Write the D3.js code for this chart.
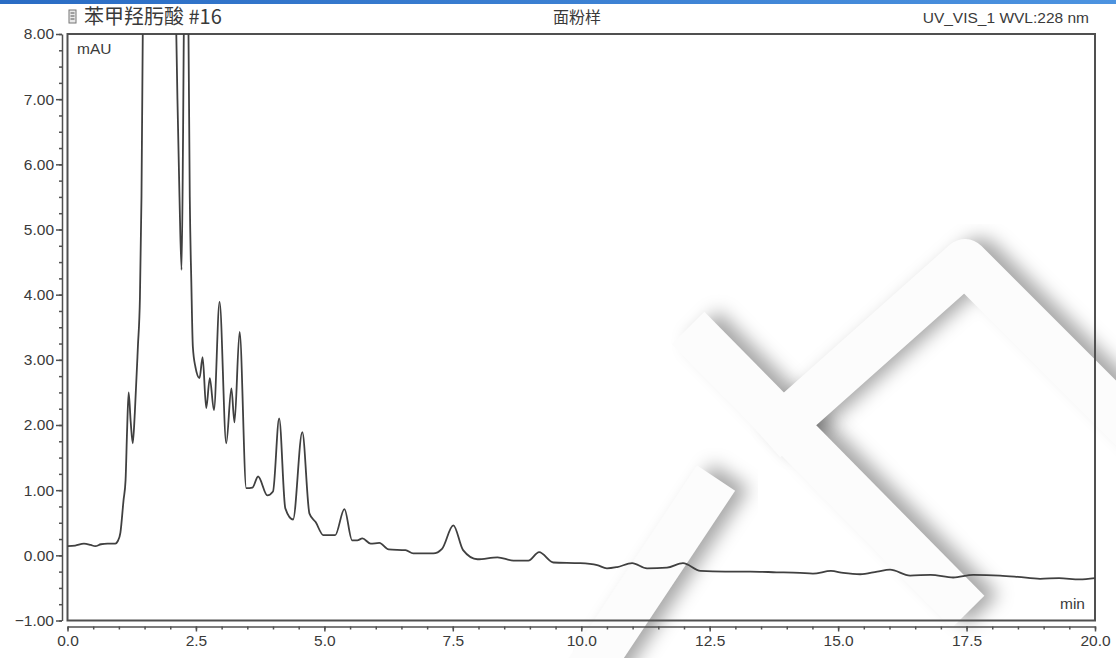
<!DOCTYPE html>
<html>
<head>
<meta charset="utf-8">
<script src="https://cdn.jsdelivr.net/npm/d3@7"></script>
<style>
  body { margin: 0; background: #fff; }
  svg { display: block; }
  text { font-family: "Liberation Sans", Arial, sans-serif; fill: #3a3a3a; }
  .cjk { font-family: "Noto Sans CJK SC", sans-serif; }
</style>
</head>
<body>
<script>
// retention time (min)
var times = [0.00, 0.15, 0.32, 0.45, 0.54, 0.65, 0.78, 0.93, 0.98, 1.03,
  1.09, 1.13, 1.16, 1.19, 1.23, 1.27, 1.31, 1.37, 1.41, 1.44,
  1.47, 1.55, 1.80, 2.02, 2.10, 2.14, 2.18, 2.22, 2.25, 2.28,
  2.32, 2.35, 2.38, 2.41, 2.44, 2.49, 2.57, 2.63, 2.70, 2.77,
  2.85, 2.96, 3.09, 3.19, 3.25, 3.35, 3.48, 3.60, 3.71, 3.89,
  4.00, 4.12, 4.24, 4.39, 4.57, 4.71, 4.83, 4.98, 5.21, 5.39,
  5.54, 5.64, 5.74, 5.90, 6.07, 6.25, 6.58, 6.73, 7.12, 7.29,
  7.51, 7.70, 7.98, 8.37, 8.68, 8.97, 9.18, 9.46, 9.98, 10.31,
  10.50, 10.70, 10.99, 11.28, 11.67, 11.98, 12.32, 12.80, 13.29, 13.80,
  14.26, 14.51, 14.86, 15.10, 15.43, 15.76, 16.01, 16.40, 16.80, 17.24,
  17.63, 18.15, 18.50, 18.93, 19.30, 19.70, 20.00];

// absorbance (mAU)
var signal = [0.14, 0.15, 0.18, 0.16, 0.14, 0.17, 0.18, 0.18, 0.22, 0.35,
  0.84, 1.15, 1.92, 2.50, 2.05, 1.72, 2.18, 3.20, 3.96, 5.50,
  8.50, 13.0, 14.5, 12.0, 8.80, 7.00, 5.50, 4.38, 6.50, 9.50,
  10.0, 8.50, 5.50, 4.20, 3.20, 2.89, 2.72, 3.04, 2.26, 2.72,
  2.23, 3.89, 1.72, 2.56, 2.04, 3.43, 1.03, 1.04, 1.21, 0.92,
  0.98, 2.10, 0.72, 0.55, 1.89, 0.64, 0.51, 0.31, 0.31, 0.71,
  0.23, 0.23, 0.26, 0.18, 0.19, 0.09, 0.08, 0.03, 0.03, 0.10,
  0.46, 0.08, -0.06, -0.03, -0.08, -0.08, 0.05, -0.11, -0.12, -0.15,
  -0.20, -0.18, -0.12, -0.20, -0.19, -0.12, -0.24, -0.25, -0.25, -0.26,
  -0.27, -0.28, -0.24, -0.27, -0.29, -0.25, -0.22, -0.31, -0.30, -0.34,
  -0.30, -0.31, -0.33, -0.36, -0.35, -0.37, -0.35];

var yMajor = [-1, 0, 1, 2, 3, 4, 5, 6, 7, 8];
var xMajor = [0, 2.5, 5, 7.5, 10, 12.5, 15, 17.5, 20];

var W = 1116, H = 658;
var box = {left: 67.5, right: 1095, top: 34, bottom: 620.5};

var svg = d3.select("body").append("svg")
    .attr("width", W)
    .attr("height", H);

var x = d3.scaleLinear().domain([0, 20]).range([box.left, box.right]);
var y = d3.scaleLinear().domain([-1, 8]).range([box.bottom, box.top]);

// window title strip at the very top
var defs = svg.append("defs");
var grad = defs.append("linearGradient").attr("id", "bar");
grad.append("stop").attr("offset", "0%").attr("stop-color", "#2a6cc4");
grad.append("stop").attr("offset", "100%").attr("stop-color", "#4c93e0");
svg.append("rect").attr("x", 0).attr("y", 0).attr("width", W).attr("height", 4)
    .attr("fill", "url(#bar)");

// faint embossed watermark in the lower right
defs.append("filter").attr("id", "soft")
    .attr("x", "-20%").attr("y", "-20%").attr("width", "140%").attr("height", "140%")
    .append("feGaussianBlur").attr("stdDeviation", 9);

var marks = [
  [[688, 328], [968, 612]],
  [[585, 675], [716, 478]],
  [[765, 440], [965, 262], [1135, 432]]
];
var mark = d3.line();
var wm = svg.append("g");
marks.forEach(function(m) {
  wm.append("path").attr("d", mark(m))
      .attr("fill", "none").attr("stroke", "#000").attr("stroke-opacity", 0.34)
      .attr("stroke-width", 44).attr("stroke-linejoin", "round")
      .attr("filter", "url(#soft)")
      .attr("transform", "translate(15,-2)");
});
marks.forEach(function(m) {
  wm.append("path").attr("d", mark(m))
      .attr("fill", "none").attr("stroke", "#fcfcfc")
      .attr("stroke-width", 46).attr("stroke-linejoin", "round");
});

// plot frame
svg.append("rect")
    .attr("x", box.left).attr("y", box.top)
    .attr("width", box.right - box.left).attr("height", box.bottom - box.top)
    .attr("fill", "none").attr("stroke", "#505050").attr("stroke-width", 2);

// y axis
var yMinor = d3.range(-1, 8.001, 0.25);
svg.append("g").attr("transform", "translate(62,0)")
    .call(d3.axisLeft(y).tickValues(yMinor).tickSize(3).tickFormat(""))
    .call(function(g) { g.select(".domain").remove(); });
var yAxis = svg.append("g").attr("transform", "translate(62,0)")
    .call(d3.axisLeft(y).tickValues(yMajor).tickSize(6).tickSizeOuter(0)
      .tickFormat(d3.format(".2f")));
yAxis.selectAll("text").attr("font-size", 15.5).attr("x", -8);

// x axis
var xMinor = d3.range(0, 20.001, 0.5);
svg.append("g").attr("transform", "translate(0,626.5)")
    .call(d3.axisBottom(x).tickValues(xMinor).tickSize(3).tickFormat(""))
    .call(function(g) { g.select(".domain").remove(); });
var xAxis = svg.append("g").attr("transform", "translate(0,626.5)")
    .call(d3.axisBottom(x).tickValues(xMajor).tickSize(5).tickSizeOuter(0)
      .tickFormat(d3.format(".1f")));
xAxis.selectAll("text").attr("font-size", 15.5).attr("y", 8);

svg.selectAll(".domain, .tick line").attr("stroke", "#505050").attr("stroke-width", 1.5);
svg.selectAll(".tick text").style("font-family", "'Liberation Sans', Arial, sans-serif")
    .attr("fill", "#3a3a3a");

// chromatogram, clipped to the frame
defs.append("clipPath").attr("id", "plotclip").append("rect")
    .attr("x", box.left).attr("y", box.top)
    .attr("width", box.right - box.left).attr("height", box.bottom - box.top);

var trace = d3.line()
    .x(function(d, i) { return x(times[i]); })
    .y(function(d) { return y(d); })
    .curve(d3.curveMonotoneX);

svg.append("path")
    .datum(signal)
    .attr("clip-path", "url(#plotclip)")
    .attr("d", trace)
    .attr("fill", "none")
    .attr("stroke", "#404040")
    .attr("stroke-width", 1.8)
    .attr("stroke-linejoin", "round");

// labels
svg.append("text").attr("x", 77).attr("y", 54).attr("font-size", 15.5).text("mAU");
svg.append("text").attr("x", 1085).attr("y", 609).attr("font-size", 15.5)
    .attr("text-anchor", "end").text("min");

// little chromatogram icon before the title
var icon = svg.append("g").attr("transform", "translate(69,10)");
icon.append("rect").attr("width", 7).attr("height", 13).attr("fill", "#e8e8e8")
    .attr("stroke", "#777").attr("stroke-width", 1);
[3, 6, 9].forEach(function(v) {
  icon.append("line").attr("x1", 1.5).attr("x2", 5.5).attr("y1", v).attr("y2", v)
      .attr("stroke", "#555").attr("stroke-width", 1);
});

svg.append("text").attr("class", "cjk").attr("x", 84).attr("y", 24)
    .attr("font-size", 20).text("苯甲羟肟酸 #16");
svg.append("text").attr("class", "cjk").attr("x", 577).attr("y", 23)
    .attr("font-size", 16).attr("text-anchor", "middle").text("面粉样");
svg.append("text").attr("x", 1089).attr("y", 23).attr("font-size", 15.5)
    .attr("text-anchor", "end").text("UV_VIS_1 WVL:228 nm");
</script>
</body>
</html>
